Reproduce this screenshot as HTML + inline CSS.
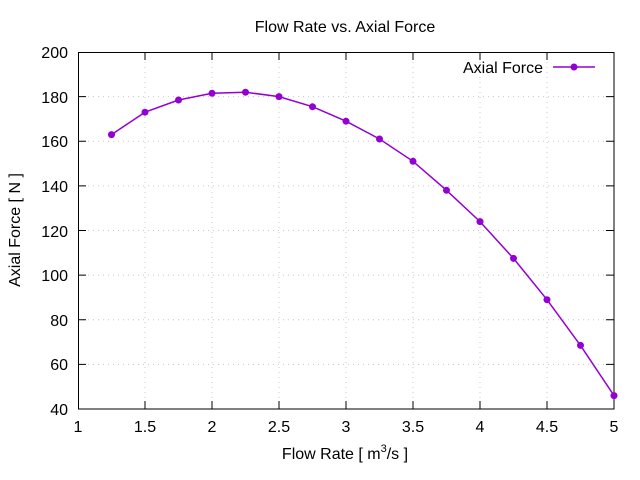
<!DOCTYPE html>
<html><head><style>body{margin:0;background:#fff}svg{display:block}text{font-family:"Liberation Sans",sans-serif;font-size:16px;fill:#000}</style></head><body>
<svg width="640" height="480" xmlns="http://www.w3.org/2000/svg">
<g stroke="#c8c8c8" stroke-width="1" stroke-dasharray="1,4">
<line x1="78" y1="364.4" x2="614" y2="364.4"/><line x1="78" y1="319.75" x2="614" y2="319.75"/><line x1="78" y1="275.1" x2="614" y2="275.1"/><line x1="78" y1="230.5" x2="614" y2="230.5"/><line x1="78" y1="185.9" x2="614" y2="185.9"/><line x1="78" y1="141.25" x2="614" y2="141.25"/><line x1="78" y1="96.6" x2="614" y2="96.6"/>
<line x1="145" y1="52" x2="145" y2="409"/><line x1="212" y1="52" x2="212" y2="409"/><line x1="279" y1="52" x2="279" y2="409"/><line x1="346" y1="52" x2="346" y2="409"/><line x1="413" y1="52" x2="413" y2="409"/><line x1="480" y1="52" x2="480" y2="409"/><line x1="547" y1="52" x2="547" y2="409"/>
</g>
<rect x="78.5" y="52.5" width="535.5" height="356.5" fill="none" stroke="#000"/>
<g stroke="#000">
<path d="M78 364.4h8M78 319.75h8M78 275.1h8M78 230.5h8M78 185.9h8M78 141.25h8M78 96.6h8M614 364.4h-8M614 319.75h-8M614 275.1h-8M614 230.5h-8M614 185.9h-8M614 141.25h-8M614 96.6h-8"/>
<path d="M145 409v-8M212 409v-8M279 409v-8M346 409v-8M413 409v-8M480 409v-8M547 409v-8M145 52v8M212 52v8M279 52v8M346 52v8M413 52v8M480 52v8M547 52v8"/>
</g>
<g text-anchor="end">
<text x="68" y="415">40</text><text x="68" y="370">60</text><text x="68" y="326">80</text><text x="68" y="281">100</text><text x="68" y="237">120</text><text x="68" y="192">140</text><text x="68" y="147">160</text><text x="68" y="103">180</text><text x="68" y="58">200</text>
</g>
<g text-anchor="middle">
<text x="78" y="432">1</text><text x="145" y="432">1.5</text><text x="212" y="432">2</text><text x="279" y="432">2.5</text><text x="346" y="432">3</text><text x="413" y="432">3.5</text><text x="480" y="432">4</text><text x="547" y="432">4.5</text><text x="614" y="432">5</text>
<text x="345" y="32">Flow Rate vs. Axial Force</text>
<text x="345" y="459">Flow Rate [ m<tspan dy="-7" font-size="11">3</tspan><tspan dy="7">/s ]</tspan></text>
<text transform="translate(20 230) rotate(-90)">Axial Force [ N ]</text>
</g>
<text x="543" y="73" text-anchor="end">Axial Force</text>
<line x1="553" y1="67" x2="595" y2="67" stroke="#9400d3" stroke-width="1.5"/><circle cx="574" cy="67" r="3.5" fill="#9400d3"/>
<polyline fill="none" stroke="#9400d3" stroke-width="1.5" points="111.5,134.6 145,112.2 178.5,100 212,93.3 245.5,92.2 279,96.6 312.5,106.7 346,121.2 379.5,139 413,161.3 446.5,190.3 480,221.6 513.5,258.4 547,299.7 580.5,345.4 614,395.6"/>
<g fill="#9400d3">
<circle cx="111.5" cy="134.6" r="3.5"/><circle cx="145" cy="112.2" r="3.5"/><circle cx="178.5" cy="100" r="3.5"/><circle cx="212" cy="93.3" r="3.5"/><circle cx="245.5" cy="92.2" r="3.5"/><circle cx="279" cy="96.6" r="3.5"/><circle cx="312.5" cy="106.7" r="3.5"/><circle cx="346" cy="121.2" r="3.5"/><circle cx="379.5" cy="139" r="3.5"/><circle cx="413" cy="161.3" r="3.5"/><circle cx="446.5" cy="190.3" r="3.5"/><circle cx="480" cy="221.6" r="3.5"/><circle cx="513.5" cy="258.4" r="3.5"/><circle cx="547" cy="299.7" r="3.5"/><circle cx="580.5" cy="345.4" r="3.5"/><circle cx="614" cy="395.6" r="3.5"/>
</g>
</svg>
</body></html>
